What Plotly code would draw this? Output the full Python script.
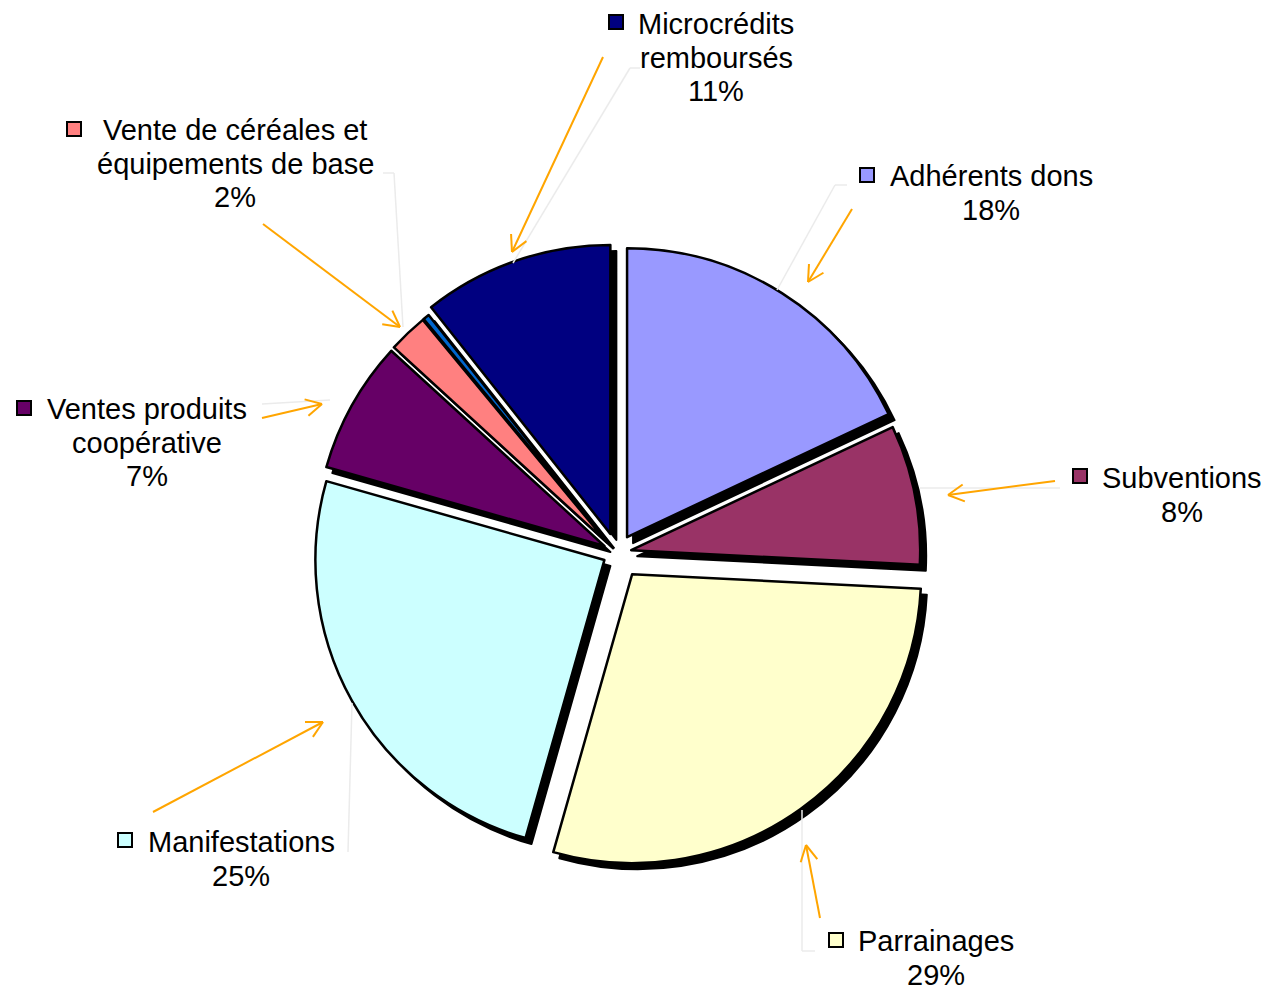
import math
import plotly.graph_objects as go

# ---------------- data ----------------
categories = ["Adhérents dons", "Subventions", "Parrainages", "Manifestations",
              "Ventes produits coopérative", "Vente de céréales et équipements de base",
              "Autres", "Microcrédits remboursés"]
values = [18.0, 7.8, 28.6, 25.0, 7.4, 2.2, 0.35, 10.65]
colors = ["#9999FF", "#993366", "#FFFFCC", "#CCFFFF", "#660066", "#FF8080", "#0066CC", "#000080"]
pulls = [0.065, 0.05, 0.09, 0.05, 0.05, 0.05, 0.05, 0.07]
# label lines (name part) for labelled slices; None = no label
label_lines = [["Adhérents dons"], ["Subventions"], ["Parrainages"], ["Manifestations"],
               ["Ventes produits", "coopérative"], ["Vente de céréales et", "équipements de base"],
               None, ["Microcrédits", "remboursés"]]

OFF = 8  # page body margin
W, H = 1269 - OFF, 989 - OFF
FONT = "Liberation Sans, Arial, sans-serif"
FS = 29
ORANGE = "#FFA500"
GREY = "#EBEBEB"


def px(x):
    return (x - OFF) / W


def py(y):
    return 1 - (y - OFF) / H


total = sum(values)
pcts = [int(v / total * 100 + 0.5) for v in values]

# pie geometry (screen pixels)
cx, cy, r = 617, 553, 289
half = r * (1 + max(pulls))
shadow = 6

fig = go.Figure()
# shadow
fig.add_trace(go.Pie(
    values=values, labels=categories, sort=False, direction="clockwise", rotation=0,
    pull=pulls, textinfo="none", hoverinfo="skip", showlegend=False,
    marker=dict(colors=["#000000"] * len(values), line=dict(color="#000000", width=2)),
    domain=dict(x=[px(cx - half + shadow), px(cx + half + shadow)],
                y=[py(cy + half + shadow), py(cy - half + shadow)]),
))
# main pie
fig.add_trace(go.Pie(
    values=values, labels=categories, sort=False, direction="clockwise", rotation=0,
    pull=pulls, textinfo="none", hoverinfo="label+percent", showlegend=False,
    marker=dict(colors=colors, line=dict(color="#000000", width=2.5)),
    domain=dict(x=[px(cx - half), px(cx + half)],
                y=[py(cy + half), py(cy - half)]),
))

# ---------- label layout (screen pixel positions) ----------
# per slice: text center x, first line center y, marker center (x, y)
label_pos = {
    0: (991, 176, 867, 175),
    1: (1182, 478, 1080, 476),
    2: (936, 941, 836, 940),
    3: (241, 842, 125, 840),
    4: (147, 409, 24, 408),
    5: (235, 130, 74, 129),
    7: (716, 24, 616, 22),
}
LINE_H = 33.7

shapes = []
annotations = []
for i, pos in label_pos.items():
    tx, ty, mx, my = pos
    lines = label_lines[i] + [f"{pcts[i]}%"]
    for k, t in enumerate(lines):
        annotations.append(dict(
            x=px(tx), y=py(ty + k * LINE_H), xref="paper", yref="paper",
            text=t, showarrow=False, xanchor="center", yanchor="middle",
            font=dict(family=FONT, size=FS, color="#000000"),
        ))
    s = 7
    shapes.append(dict(type="rect", xref="paper", yref="paper",
                       x0=px(mx - s), x1=px(mx + s), y0=py(my + s), y1=py(my - s),
                       fillcolor=colors[i], line=dict(color="#000000", width=2)))

# leader lines (faint grey)
leaders = [
    [(847, 185), (835, 185), (777, 290)],
    [(1060, 488), (920, 488)],
    [(815, 951), (802, 951), (802, 810)],
    [(348, 852), (352, 703)],
    [(383, 173), (394, 173), (403, 327)],
    [(640, 68), (630, 68), (513, 263)],
    [(262, 404), (330, 400)],
]
for pts in leaders:
    for (x0, y0), (x1, y1) in zip(pts[:-1], pts[1:]):
        shapes.append(dict(type="line", xref="paper", yref="paper",
                           x0=px(x0), y0=py(y0), x1=px(x1), y1=py(y1),
                           line=dict(color=GREY, width=1.5)))

# orange arrows: start -> tip
arrows = [
    ((603, 57), (512, 252)),
    ((263, 224), (400, 327)),
    ((262, 418), (322, 404)),
    ((153, 812), (323, 722)),
    ((820, 918), (806, 845)),
    ((1055, 481), (948, 495)),
    ((852, 209), (808, 282)),
]
HEAD, ANG = 18, math.radians(28)
for (x0, y0), (x1, y1) in arrows:
    shapes.append(dict(type="line", xref="paper", yref="paper",
                       x0=px(x0), y0=py(y0), x1=px(x1), y1=py(y1),
                       line=dict(color=ORANGE, width=2)))
    a = math.atan2(y0 - y1, x0 - x1)
    for sgn in (-1, 1):
        hx = x1 + HEAD * math.cos(a + sgn * ANG)
        hy = y1 + HEAD * math.sin(a + sgn * ANG)
        shapes.append(dict(type="line", xref="paper", yref="paper",
                           x0=px(x1), y0=py(y1), x1=px(hx), y1=py(hy),
                           line=dict(color=ORANGE, width=2)))

fig.update_layout(
    width=W, height=H, margin=dict(l=0, r=0, t=0, b=0),
    paper_bgcolor="#FFFFFF", plot_bgcolor="#FFFFFF",
    shapes=shapes, annotations=annotations, showlegend=False,
)

fig.write_html("out.html")
